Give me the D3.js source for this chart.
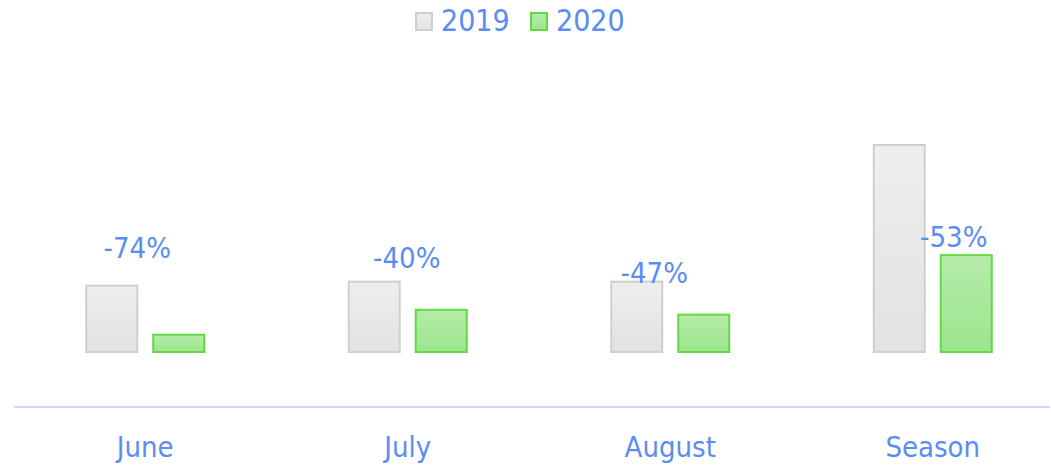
<!DOCTYPE html>
<html>
<head>
<meta charset="utf-8">
<script src="https://cdn.jsdelivr.net/npm/d3@7"></script>
<style>
  html, body { margin: 0; padding: 0; background: #ffffff; }
  svg { display: block; font-family: "DejaVu Sans Condensed", "DejaVu Sans", sans-serif; }
</style>
</head>
<body>
<svg id="chart" width="1051" height="466"></svg>
<script>
// Monthly totals for the summer season, 2019 vs 2020
const categories = ["June", "July", "August", "Season"];
const seriesNames = ["2019", "2020"];
const values2019 = [3300, 3500, 3500, 10300];
const values2020 = [860, 2100, 1860, 4820];
const changeLabels = ["-74%", "-40%", "-47%", "-53%"];

// Where each change label sits: value level on the y scale and a horizontal nudge in px
const labelLevels = [4700, 4200, 3450, 5200];
const labelNudge = [-8, -1, -16, 21];

const width = 1051, height = 466;
const svg = d3.select("#chart");

const textColor = "#5b8cf5";
const fontStack = "DejaVu Sans Condensed, DejaVu Sans, sans-serif";
const styles = {
  "2019": { top: "#eeeeee", bottom: "#e2e2e2", stroke: "#cfcfcf" },
  "2020": { top: "#b5eca9", bottom: "#9ce58d", stroke: "#62d942" }
};

const defs = svg.append("defs");
seriesNames.forEach(name => {
  const g = defs.append("linearGradient")
    .attr("id", "grad" + name)
    .attr("x1", 0).attr("y1", 0).attr("x2", 0).attr("y2", 1);
  g.append("stop").attr("offset", "0%").attr("stop-color", styles[name].top);
  g.append("stop").attr("offset", "100%").attr("stop-color", styles[name].bottom);
});

const x = d3.scaleBand().domain(categories).range([14, 1064]);
const xInner = d3.scaleBand().domain(seriesNames).range([-60, 60]).paddingInner(0.209);
const y = d3.scaleLinear().domain([0, 12000]).range([352, 110.8]);

const rows = categories.map((c, i) => ({
  category: c,
  values: [
    { series: "2019", value: values2019[i] },
    { series: "2020", value: values2020[i] }
  ]
}));

// bars
const groups = svg.append("g").selectAll("g")
  .data(rows).join("g")
  .attr("transform", d => `translate(${x(d.category) + x.bandwidth() / 2},0)`);

groups.selectAll("rect")
  .data(d => d.values).join("rect")
  .attr("x", d => xInner(d.series) + 1)
  .attr("width", xInner.bandwidth() - 2)
  .attr("y", d => y(d.value))
  .attr("height", d => y(0) - y(d.value))
  .attr("fill", d => `url(#grad${d.series})`)
  .attr("stroke", d => styles[d.series].stroke)
  .attr("stroke-width", 2);

// change labels
svg.append("g").selectAll("text")
  .data(rows).join("text")
  .attr("x", (d, i) => x(d.category) + x.bandwidth() / 2 + labelNudge[i])
  .attr("y", (d, i) => y(labelLevels[i]))
  .attr("text-anchor", "middle")
  .attr("font-size", 29)
  .attr("fill", textColor)
  .text((d, i) => changeLabels[i]);

// x axis
const xAxis = svg.append("g")
  .attr("transform", "translate(0,407)")
  .call(d3.axisBottom(x).tickSize(0).tickPadding(29));
xAxis.select(".domain")
  .attr("d", "M14,0H1050")
  .attr("stroke", "#ccdaf8")
  .attr("stroke-width", 2);
xAxis.selectAll(".tick text")
  .attr("font-size", 29)
  .attr("font-family", fontStack)
  .attr("fill", textColor);

// legend
const legend = svg.append("g");
const legendItems = [
  { name: "2019", x: 415 },
  { name: "2020", x: 530 }
];
const li = legend.selectAll("g").data(legendItems).join("g")
  .attr("transform", d => `translate(${d.x},12)`);
li.append("rect")
  .attr("x", 1).attr("y", 1)
  .attr("width", 16).attr("height", 17)
  .attr("fill", d => `url(#grad${d.name})`)
  .attr("stroke", d => styles[d.name].stroke)
  .attr("stroke-width", 2);
li.append("text")
  .attr("x", 26).attr("y", 19)
  .attr("font-size", 30)
  .attr("fill", textColor)
  .text(d => d.name);
</script>
</body>
</html>
